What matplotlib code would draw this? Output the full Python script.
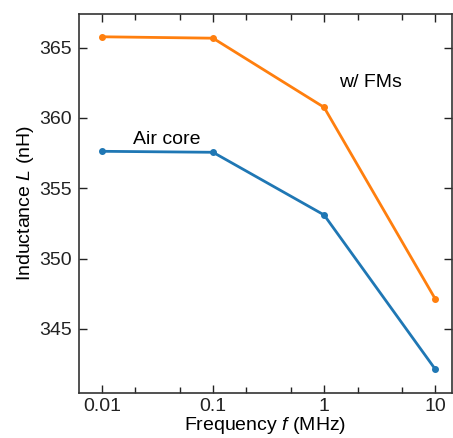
import numpy as np
import matplotlib.pyplot as plt
from matplotlib.ticker import FixedLocator, NullFormatter

plt.rcParams['font.family'] = 'Liberation Sans'
plt.rcParams['mathtext.fontset'] = 'custom'
plt.rcParams['mathtext.rm'] = 'Liberation Sans'
plt.rcParams['mathtext.it'] = 'Liberation Sans:italic'

freq = [0.01, 0.1, 1, 10]
L_fm = [365.78, 365.68, 360.76, 347.13]
L_air = [357.63, 357.56, 353.1, 342.13]
xticks = [0.01, 0.1, 1, 10]
xticklabels = ['0.01', '0.1', '1', '10']
yticks = [345, 350, 355, 360, 365]

fig = plt.figure(figsize=(4.53, 4.38), dpi=100)
ax = fig.add_axes([0.174, 0.1034, 0.824, 0.8646])

ax.plot(freq, L_fm, '-o', color='#ff7f0e', lw=2, ms=4)
ax.plot(freq, L_air, '-o', color='#1f77b4', lw=2, ms=4)

ax.set_xscale('log')
ax.set_xlim(0.0062, 14.2)
ax.set_ylim(340.45, 367.4)
ax.set_xticks(xticks)
ax.set_xticklabels(xticklabels)
ax.xaxis.set_minor_locator(FixedLocator([0.02, 0.05, 0.2, 0.5, 2, 5]))
ax.xaxis.set_minor_formatter(NullFormatter())
ax.set_yticks(yticks)

ax.tick_params(which='both', direction='in', top=True, right=True, labelsize=14, colors='#222222')
ax.tick_params(which='major', length=6, width=1)
ax.tick_params(which='minor', length=4, width=1)
ax.tick_params(axis='x', pad=4)
ax.tick_params(axis='y', pad=5)
for s in ax.spines.values():
    s.set_color('#333333')
    s.set_linewidth(1.2)

ax.text(0.038, 358.5, 'Air core', fontsize=14, ha='center', va='center')
ax.text(2.6, 362.5, 'w/ FMs', fontsize=14, ha='center', va='center')

ax.set_xlabel('Frequency $f$ (MHz)', fontsize=14, labelpad=0)
ax.set_ylabel('Inductance $L$ (nH)', fontsize=14, labelpad=2)

fig.savefig('out.png', dpi=100)
